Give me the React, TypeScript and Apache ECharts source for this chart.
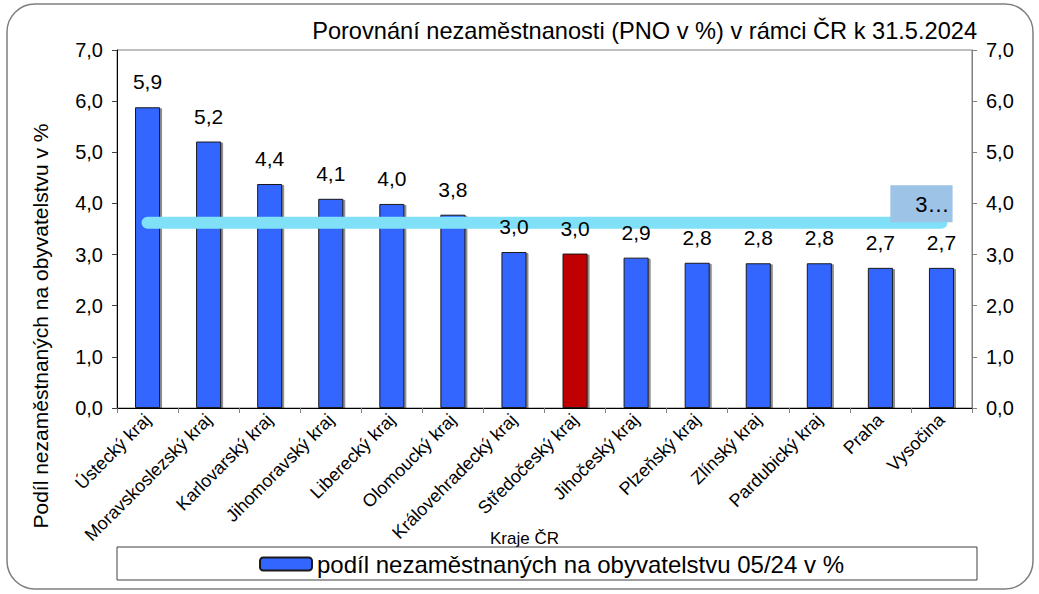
import React, { useEffect, useRef } from "react";
import * as echarts from "echarts";

const categories = [
  "Ústecký kraj",
  "Moravskoslezský kraj",
  "Karlovarský kraj",
  "Jihomoravský kraj",
  "Liberecký kraj",
  "Olomoucký kraj",
  "Královehradecký kraj",
  "Středočeský kraj",
  "Jihočeský kraj",
  "Plzeňský kraj",
  "Zlínský kraj",
  "Pardubický kraj",
  "Praha",
  "Vysočina",
];
const shareValues = [5.88, 5.21, 4.38, 4.09, 3.99, 3.78, 3.05, 3.02, 2.94, 2.84, 2.83, 2.83, 2.74, 2.74];
const highlighted = "Středočeský kraj";
const czAverage = 3.62;
const yTicks = [0, 1, 2, 3, 4, 5, 6, 7];

const fmt = (v: number) => v.toFixed(1).replace(".", ",");

export default function App() {
  const ref = useRef<HTMLDivElement>(null);
  useEffect(() => {
    document.body.style.margin = "0";
    if (!ref.current) return;
    const chart = echarts.init(ref.current, undefined, { renderer: "svg" });

    const font = "Liberation Sans, Arial, sans-serif";
    const yMin = yTicks[0];
    const yMax = yTicks[yTicks.length - 1];
    const yAxisCommon = {
      type: "value",
      min: yMin,
      max: yMax,
      interval: 1,
      splitLine: { show: false },
      axisLabel: {
        formatter: (v: number) => fmt(v),
        fontSize: 20,
        color: "#000",
        fontFamily: font,
        margin: 14,
      },
    };

    chart.setOption({
      animation: false,
      textStyle: { fontFamily: font },
      title: {
        text: "Porovnání nezaměstnanosti (PNO v %) v rámci ČR k 31.5.2024",
        right: 57,
        top: 14,
        textStyle: { fontSize: 23.6, fontWeight: "normal", color: "#000", fontFamily: font },
      },
      grid: {
        left: 117,
        right: 67,
        top: 50,
        bottom: 186,
        show: true,
        borderColor: "#808080",
        borderWidth: 1,
      },
      legend: {
        data: ["podíl nezaměstnaných na obyvatelstvu 05/24 v %"],
        left: 117,
        top: 547,
        itemWidth: 52,
        itemHeight: 13,
        itemGap: 6,
        borderColor: "#404040",
        borderWidth: 1,
        padding: [5, 133, 4, 142],
        textStyle: { fontSize: 24, color: "#000", fontFamily: font },
      },
      xAxis: {
        type: "category",
        data: categories,
        name: "Kraje ČR",
        nameLocation: "middle",
        nameGap: 122,
        nameMoveOverlap: false,
        nameTextStyle: { fontSize: 17, color: "#000", padding: [0, 40, 0, 0] },
        axisLine: { lineStyle: { color: "#000" } },
        axisTick: { show: true, length: 5, lineStyle: { color: "#808080" } },
        axisLabel: {
          rotate: 45,
          interval: 0,
          fontSize: 18,
          color: "#000",
          fontFamily: font,
          margin: 9,
        },
      },
      yAxis: [
        {
          ...yAxisCommon,
          position: "left",
          axisLine: { show: true, lineStyle: { color: "#000" } },
          axisTick: { show: true, length: 5, lineStyle: { color: "#404040" } },
        },
        {
          ...yAxisCommon,
          position: "right",
          axisLine: { show: true, lineStyle: { color: "#808080" } },
          axisTick: { show: true, length: 5, lineStyle: { color: "#808080" } },
        },
      ],
      series: [
        {
          name: "podíl nezaměstnaných na obyvatelstvu 05/24 v %",
          type: "bar",
          yAxisIndex: 0,
          barWidth: "41%",
          data: shareValues.map((v, i) => ({
            value: v,
            itemStyle: categories[i] === highlighted ? { color: "#c00000" } : undefined,
          })),
          itemStyle: {
            color: "#3366ff",
            borderColor: "#1a1a1a",
            borderWidth: 1,
            shadowColor: "rgba(0,0,0,0.45)",
            shadowOffsetX: 2,
            shadowOffsetY: 1,
            shadowBlur: 0,
          },
          z: 2,
        },
        {
          name: "ČR",
          type: "line",
          yAxisIndex: 0,
          data: categories.map((_, i) => ({
            value: czAverage,
            label:
              i === categories.length - 1
                ? {
                    show: true,
                    position: "top",
                    distance: 0,
                    offset: [-20, 0],
                    backgroundColor: "#9dc3e6",
                    padding: [8, 3, 7, 25],
                    fontSize: 22,
                    color: "#000",
                    fontFamily: font,
                    formatter: (p: any) => String(p.value).charAt(0) + "…",
                  }
                : { show: false },
          })),
          symbol: "circle",
          symbolSize: 1,
          itemStyle: { color: "rgba(0,0,0,0)", borderWidth: 0 },
          lineStyle: {
            width: 12,
            cap: "round",
            color: "#7fe0f8",
          },
          z: 3,
        },
        {
          name: "labels",
          type: "bar",
          yAxisIndex: 0,
          barWidth: "41%",
          barGap: "-100%",
          data: shareValues,
          itemStyle: { color: "rgba(0,0,0,0)" },
          label: {
            show: true,
            position: "top",
            distance: 15,
            fontSize: 21,
            color: "#000",
            fontFamily: font,
            formatter: (p: any) => fmt(p.value),
          },
          silent: true,
          z: 4,
        },
      ],
      graphic: [
        {
          type: "rect",
          shape: { x: 7, y: 4, width: 1026, height: 585, r: 28 },
          style: { fill: "none", stroke: "#7f7f7f", lineWidth: 1.5 },
          silent: true,
          z: -1,
        },
        {
          type: "text",
          x: 40,
          y: 326,
          rotation: Math.PI / 2,
          style: {
            text: "Podíl nezaměstnaných na obyvatelstvu v %",
            fontSize: 21,
            fontFamily: font,
            fill: "#000",
            align: "center",
            verticalAlign: "middle",
          },
        },
      ],
    });
    return () => chart.dispose();
  }, []);
  return <div ref={ref} style={{ width: 1039, height: 594 }} />;
}
